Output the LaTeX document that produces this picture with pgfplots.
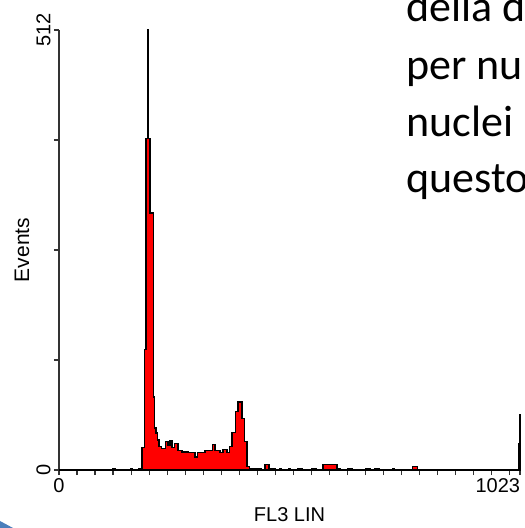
\documentclass[border=0pt]{standalone}
\usepackage{fontspec}
\setmainfont{Liberation Sans}
\newfontfamily\slidefont{Carlito}
\usepackage{pgfplots}
\pgfplotsset{compat=1.18}
\definecolor{histred}{HTML}{FF0000}
\definecolor{axisgray}{HTML}{333333}
\definecolor{slideblue}{HTML}{4A7EBB}

% FL3 LIN histogram, channel (left edge of bin) vs. events
\pgfplotstableread{
ch   ev
0    0
120  1
124  0
160  1
163  0
176  1
180  0
184  26
189  140
193  386
197  512
198  497
199  386
202  299
209  85
212  49
215  43
218  35
222  27
228  25
236  33
242  29
246  34
251  26
257  31
264  23
273  21
286  20
302  15
308  20
324  23
340  30
346  23
357  20
364  24
373  20
379  27
384  44
391  68
397  79
406  60
411  33
417  4
422  2
435  1
450  0
457  6
466  1
480  0
490  1
494  0
510  1
514  0
530  1
540  0
560  1
570  0
586  6
617  1
625  0
640  1
650  0
680  1
690  0
700  1
710  0
740  1
745  0
785  4
795  0
1020 0
1021 31
1022 64
1023 64
}\histdata

\begin{document}
\begin{tikzpicture}
\useasboundingbox (0pt,0pt) rectangle (525pt,528pt);
\clip (0pt,0pt) rectangle (525pt,528pt);
\begin{axis}[
  at={(59pt,58pt)}, anchor=south west,
  scale only axis, width=461pt, height=440pt,
  xmin=0, xmax=1023, ymin=0, ymax=512,
  axis x line=bottom, axis y line=left,
  axis line style={-, line width=1.3pt, draw=axisgray},
  clip=false,
  font=\fontsize{20}{24}\selectfont,
  /pgf/number format/assume math mode=true,
  xtick={0,1023}, xticklabels={0,\llap{1023}},
  extra x ticks={40,80,...,1000}, extra x tick labels={},
  ytick={0,512}, yticklabels={0,512},
  extra y ticks={128,256,384}, extra y tick labels={},
  yticklabel style={rotate=90, anchor=south},
  tick align=outside, major tick length=5pt,
  tick style={line width=1.2pt, draw=axisgray},
  xlabel={FL3 LIN}, ylabel={Events},
  xlabel style={yshift=2pt},
  ylabel style={yshift=-10pt, font=\fontsize{21}{24}\selectfont},
]
\addplot[const plot mark left, fill=histred, draw=black, line width=1.3pt]
  table[x=ch, y=ev] {\histdata} \closedcycle;
\end{axis}
\node[anchor=base west, inner sep=0pt, font=\slidefont\fontsize{44}{52}\selectfont] at (406pt,506pt) {della d};
\node[anchor=base west, inner sep=0pt, font=\slidefont\fontsize{44}{52}\selectfont] at (406pt,448pt) {per nu};
\node[anchor=base west, inner sep=0pt, font=\slidefont\fontsize{44}{52}\selectfont] at (406pt,391pt) {nuclei};
\node[anchor=base west, inner sep=0pt, font=\slidefont\fontsize{44}{52}\selectfont] at (406pt,335pt) {questo};
\fill[slideblue] (0pt,0pt) -- (0pt,7pt) -- (13pt,0pt) -- cycle;
\end{tikzpicture}
\end{document}
